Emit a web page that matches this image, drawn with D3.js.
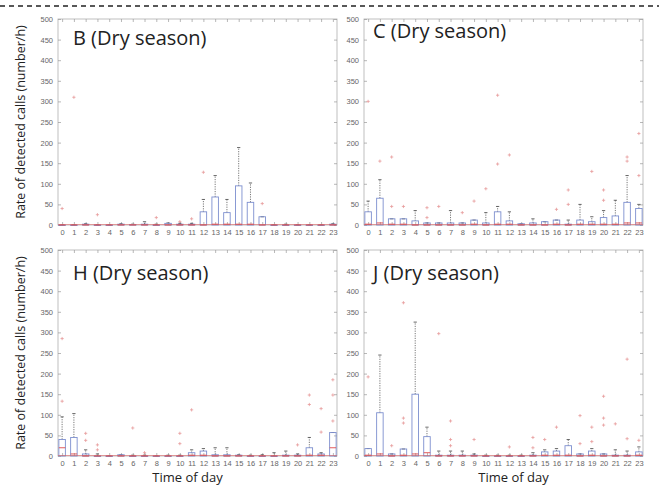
<!DOCTYPE html>
<html><head><meta charset="utf-8">
<script src="https://cdn.jsdelivr.net/npm/d3@7"></script>
<style>body{margin:0;background:#fff}svg{display:block}</style>
</head><body><svg id="c" width="659" height="487"></svg>
<script>
const hours = [0,1,2,3,4,5,6,7,8,9,10,11,12,13,14,15,16,17,18,19,20,21,22,23];
const yTicks = [0,50,100,150,200,250,300,350,400,450,500];
const panelTitles = ["B (Dry season)","C (Dry season)","H (Dry season)","J (Dry season)"];

// Panel B
const bQ3  = [0,0,2,0,0,2,1,2,0,4,2,2,32,68,30,95,55,20,0,0,0,0,0,2];
const bMed = [0,0,0,0,0,0,0,0,0,0,0,0,0,2,2,2,2,0,0,0,0,0,0,0];
const bHi  = [0,0,3,0,0,3,2,8,2,5,4,4,62,120,62,188,102,20,0,2,0,0,0,3];
const bOut = [[40],[310],[],[25],[],[],[],[],[18],[],[8],[15],[128],[],[],[],[],[52],[],[],[],[],[],[]];
// Panel C
const cQ3  = [32,65,15,15,10,5,5,5,5,12,5,32,10,3,5,8,12,2,12,8,18,22,55,40];
const cMed = [2,5,2,2,0,0,0,0,0,2,0,2,2,0,0,0,2,0,2,2,2,2,5,5];
const cHi  = [58,110,15,15,35,5,5,35,5,12,30,45,32,3,15,8,12,12,50,20,35,60,120,50];
const cOut = [[300],[155],[45,165],[45],[],[18,42],[45],[],[30],[58],[88],[148,315],[170],[],[],[],[38],[50,85],[],[130],[60,85],[],[155,165],[120,222]];
// Panel H
const hQ3  = [40,45,5,0,0,3,0,0,0,0,0,8,12,3,3,2,0,0,0,2,2,20,5,57];
const hMed = [20,5,0,0,0,0,0,0,0,0,0,2,2,0,0,0,0,0,0,0,0,2,2,20];
const hHi  = [95,103,15,5,0,3,2,2,0,2,2,15,18,20,20,3,2,3,8,12,5,45,8,57];
const hOut = [[133,285],[],[38,55],[15,27],[],[],[68],[8],[],[],[30,55],[112],[],[],[],[],[],[],[],[],[27],[125,148],[58,115],[85,148,185]];
// Panel J
const jQ3  = [18,105,5,17,150,47,2,2,2,2,0,0,0,0,2,10,12,25,5,12,5,2,2,10];
const jMed = [2,5,0,2,5,8,0,0,0,0,0,0,0,0,0,2,2,2,0,2,0,0,0,2];
const jHi  = [18,245,5,17,325,70,12,12,12,5,2,2,2,2,8,15,18,40,5,18,5,15,12,22];
const jOut = [[192],[],[25],[80,92,372],[],[],[297],[25,40,85],[],[40],[],[],[22],[],[20,45],[40],[70],[],[30,98],[35,70],[75,92,145],[78],[42,235],[38]];

const panels = [
  {title: panelTitles[0], q3: bQ3, med: bMed, hi: bHi, out: bOut, x0: 58,  y0: 19,  ty: 26, tx: 15, ylab: true,  xlab: false},
  {title: panelTitles[1], q3: cQ3, med: cMed, hi: cHi, out: cOut, x0: 364, y0: 19,  ty: 19, tx: 9,  ylab: false, xlab: false},
  {title: panelTitles[2], q3: hQ3, med: hMed, hi: hHi, out: hOut, x0: 58,  y0: 250, ty: 30, tx: 15, ylab: true,  xlab: true},
  {title: panelTitles[3], q3: jQ3, med: jMed, hi: jHi, out: jOut, x0: 364, y0: 250, ty: 30, tx: 9,  ylab: false, xlab: true}
];
const W = 279, H = 206;

const svg = d3.select("#c");
svg.append("line").attr("x1",0).attr("x2",659).attr("y1",6).attr("y2",6)
  .attr("stroke","#222").attr("stroke-width",1.6).attr("stroke-dasharray","5,4");

panels.forEach(p => {
  const g = svg.append("g").attr("transform",`translate(${p.x0},${p.y0})`);
  const x = d3.scalePoint().domain(hours).range([0,W]).padding(0.35);
  const y = d3.scaleLinear().domain([0,500]).range([H,0]);
  const bw = 6.5;

  g.append("rect").attr("width",W).attr("height",H).attr("fill","none").attr("stroke","#b0b0b0").attr("stroke-width",0.8);

  const ax = g.append("g").attr("transform",`translate(0,${H})`)
    .call(d3.axisBottom(x).tickSize(-3).tickPadding(5));
  const axT = g.append("g").call(d3.axisTop(x).tickSize(-3).tickFormat(""));
  const ay = g.append("g").call(d3.axisLeft(y).tickValues(yTicks).tickSize(-3).tickPadding(5));
  const ayR = g.append("g").attr("transform",`translate(${W},0)`).call(d3.axisRight(y).tickValues(yTicks).tickSize(-3).tickFormat(""));
  [ax,axT,ay,ayR].forEach(a => {
    a.select(".domain").remove();
    a.selectAll("line").attr("stroke","#999").attr("stroke-width",0.7);
    a.selectAll("text").attr("fill","#666").attr("font-size","7.5px").attr("font-family","Liberation Sans, Arial, sans-serif");
  });

  hours.forEach((h,i) => {
    const cx = x(h);
    const q3 = p.q3[i], med = p.med[i], hi = p.hi[i];
    if (hi > q3) {
      g.append("line").attr("x1",cx).attr("x2",cx).attr("y1",y(q3)).attr("y2",y(hi))
        .attr("stroke","#555").attr("stroke-width",0.8).attr("stroke-dasharray","1.2,1.2");
    }
    g.append("line").attr("x1",cx-bw/4).attr("x2",cx+bw/4).attr("y1",y(hi)).attr("y2",y(hi))
      .attr("stroke","#444").attr("stroke-width",0.8);
    g.append("rect").attr("x",cx-bw/2).attr("y",y(q3)).attr("width",bw).attr("height",Math.max(0.5,y(0)-y(q3)))
      .attr("fill","none").attr("stroke","#7d8fcf").attr("stroke-width",0.9);
    g.append("line").attr("x1",cx-bw/2).attr("x2",cx+bw/2).attr("y1",y(med)).attr("y2",y(med))
      .attr("stroke","#e04848").attr("stroke-width",0.9);
    p.out[i].forEach(v => {
      const oy = y(v);
      g.append("path").attr("d",`M${cx-1.6},${oy}H${cx+1.6}M${cx},${oy-1.6}V${oy+1.6}`)
        .attr("stroke","#e07878").attr("stroke-width",0.8).attr("opacity",0.75);
    });
  });
  g.append("line").attr("x1",0).attr("x2",W).attr("y1",H-0.5).attr("y2",H-0.5)
    .attr("stroke","#e05050").attr("stroke-width",0.7).attr("opacity",0.7);

  g.append("text").attr("x",p.tx).attr("y",p.ty).text(p.title)
    .attr("font-family","Open Sans, sans-serif").attr("font-size","20px").attr("fill","#222");

  if (p.ylab) {
    svg.append("text").attr("transform",`translate(${p.x0-33},${p.y0+H/2}) rotate(-90)`)
      .attr("text-anchor","middle").text("Rate of detected calls (number/h)")
      .attr("font-family","Open Sans, sans-serif").attr("font-size","12.5px").attr("fill","#222");
  }
  if (p.xlab) {
    svg.append("text").attr("x",p.x0+W/2+(p.x0<100?-10:10)).attr("y",482)
      .attr("text-anchor","middle").text("Time of day")
      .attr("font-family","Open Sans, sans-serif").attr("font-size","13px").attr("fill","#222");
  }
});
</script>
</body></html>
